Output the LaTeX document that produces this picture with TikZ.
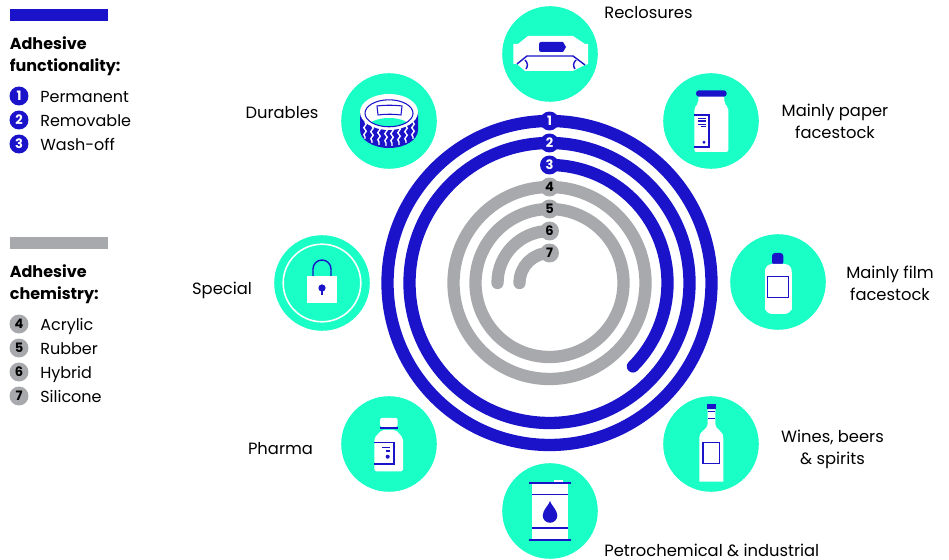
\documentclass[tikz,border=0pt]{standalone}
\usepackage{fontspec}
\setmainfont{Poppins}
\usetikzlibrary{decorations.pathmorphing}
\definecolor{inkblue}{HTML}{1A13C9}
\definecolor{ringgrey}{HTML}{A7A9AC}
\definecolor{mint}{HTML}{19FFC6}
\tikzset{
    bluering/.style={draw=inkblue, line width=7pt, line cap=round},
    greyring/.style={draw=ringgrey, line width=7pt, line cap=round},
    bluebadge/.style={circle, fill=inkblue, text=white, minimum size=10.8pt, inner sep=0pt, font=\fontsize{7.4}{7.4}\selectfont\bfseries},
    greybadge/.style={circle, fill=ringgrey, text=black, minimum size=10.8pt, inner sep=0pt, font=\fontsize{7.4}{7.4}\selectfont\bfseries},
    disc/.style={circle, fill=mint, minimum size=54.4pt, inner sep=0pt},
    lbl/.style={inner sep=0pt, align=center, font=\fontsize{9.3}{12.5}\selectfont},
    keylbl/.style={inner sep=0pt, anchor=west, text height=6.5pt, text depth=2pt, font=\fontsize{9.1}{12.5}\selectfont},
    heading/.style={inner sep=0pt, anchor=north west, align=left, font=\fontsize{9.1}{12.5}\selectfont\bfseries},
    inkline/.style={draw=inkblue, line width=0.8pt},
    paper/.style={fill=white}
}
\begin{document}
\begin{tikzpicture}[x=0.02cm, y=0.02cm]
    \useasboundingbox (0,0) rectangle (949,560);

    % legend, functionality
    \fill [inkblue] (10,539) rectangle (108,551);
    \node [heading] (headfunc) at (9.5,524) {Adhesive\\functionality:};
    \node [bluebadge] (key1) at (19,464) {1};
    \node [bluebadge] (key2) at (19,440) {2};
    \node [bluebadge] (key3) at (19,416) {3};
    \node [keylbl] (permanent) at (40,461) {Permanent};
    \node [keylbl] (removable) at (40,437) {Removable};
    \node [keylbl] (washoff) at (40,413) {Wash-off};

    % legend, chemistry
    \fill [ringgrey] (10,311) rectangle (108,323);
    \node [heading] (headchem) at (9.5,296) {Adhesive\\chemistry:};
    \node [greybadge] (key4) at (19,236) {4};
    \node [greybadge] (key5) at (19,212) {5};
    \node [greybadge] (key6) at (19,188) {6};
    \node [greybadge] (key7) at (19,164) {7};
    \node [keylbl] (acrylic) at (40,233) {Acrylic};
    \node [keylbl] (rubber) at (40,209) {Rubber};
    \node [keylbl] (hybrid) at (40,185) {Hybrid};
    \node [keylbl] (silicone) at (40,161) {Silicone};

    % rings
    \coordinate (mid) at (549.5,277);
    \draw [bluering] (mid) circle [radius=162];
    \draw [bluering] (mid) circle [radius=140];
    \draw [bluering] (549.5,395) arc (90:-45:118);
    \draw [greyring] (mid) circle [radius=96];
    \draw [greyring] (mid) circle [radius=74];
    \draw [greyring] (549.5,329) arc (90:180:52);
    \draw [greyring] (549.5,307) arc (90:180:30);
    % numbers
    \node [bluebadge] (ring1) at (549.5,439) {1};
    \node [bluebadge] (ring2) at (549.5,417) {2};
    \node [bluebadge] (ring3) at (549.5,395) {3};
    \node [greybadge] (ring4) at (549.5,373) {4};
    \node [greybadge] (ring5) at (549.5,351) {5};
    \node [greybadge] (ring6) at (549.5,329) {6};
    \node [greybadge] (ring7) at (549.5,307) {7};

    % discs
    \node [disc] (reclosures) at (550,506) {};
    \node [disc] (durables) at (389,439) {};
    \node [disc] (paperjar) at (711,439) {};
    \node [disc] (filmbottle) at (778,278) {};
    \node [disc] (wine) at (711,116) {};
    \node [disc] (drum) at (550,49) {};
    \node [disc] (pharma) at (389,116) {};
    \node [disc] (special) at (322,277) {};

    % labels
    \node [lbl, anchor=west] (lblreclosures) at (604,547) {Reclosures};
    \node [lbl] (lbldurables) at (282,447) {Durables};
    \node [lbl] (lblpaper) at (835,438.5) {Mainly paper\\facestock};
    \node [lbl] (lblfilm) at (890,276.5) {Mainly film\\facestock};
    \node [lbl] (lblwine) at (832.5,111) {Wines, beers\\\& spirits};
    \node [lbl, anchor=west] (lblpetro) at (604,10) {Petrochemical \& industrial};
    \node [lbl] (lblpharma) at (280.5,111) {Pharma};
    \node [lbl] (lblspecial) at (222,270) {Special};

    % wipes pack
    \begin{scope}[shift={(reclosures.center)}]
        \fill [paper] (-36.7,10) -- (-32,10) -- (-22,18) -- (23,18) -- (35,10) -- (38,10)
            -- (38,-10) -- (35,-11) -- (23,-17) -- (-25,-17) -- (-33,-10) -- (-36.7,-10) -- cycle;
        \fill [inkblue, rounded corners=1.2pt] (-11,12) rectangle (12,2);
        \fill [inkblue] (10,12) -- (13,12) -- (16,7) -- (13,2) -- (10,2) -- cycle;
        \draw [inkline] (-33,-10) -- (-23,-2) -- (23,-2) -- (35,-11);
        \draw [inkline] (-25,-6) .. controls (-22,-9) and (-22,-12) .. (-24,-15);
        \draw [inkline] (26,-6) .. controls (23,-9) and (23,-12) .. (25,-15);
    \end{scope}

    % tape roll
    \begin{scope}[shift={(durables.center)}]
        \fill [inkblue] (-29,9) -- (-29,-9) arc (180:360:29 and 18) -- (29,9) -- cycle;
        \foreach \wx/\wtop/\wbot in {-24/-1/-18, -17/-5/-22, -10/-6/-24, -3/-7/-25, 3/-7/-25, 10/-6/-24, 17/-5/-22, 24/-1/-18}
            \draw [white, line width=0.8pt, decorate, decoration={snake, amplitude=0.7pt, segment length=4pt}] (\wx,\wtop) -- (\wx,\wbot);
        \fill [paper] (0,9) ellipse [x radius=29, y radius=18];
        \begin{scope}
            \clip (0,7.7) ellipse [x radius=24, y radius=13.5];
            \fill [mint] (0,-7) ellipse [x radius=22, y radius=10];
        \end{scope}
        \draw [inkblue, line width=0.6pt] (0,7.7) ellipse [x radius=24, y radius=13.5];
        \draw [inkblue, line width=0.6pt] (-12,15) .. controls (-4,16) and (5,16) .. (13,15)
            -- (12,6) .. controls (4,7) and (-4,7) .. (-11,6) -- cycle;
    \end{scope}

    % jar
    \begin{scope}[shift={(paperjar.center)}]
        \fill [paper, rounded corners=1.2pt] (-16.7,-31) -- (-16.7,13) -- (-12.7,18) -- (-12.7,25) -- (13.3,25) -- (13.3,18) -- (17.3,13) -- (17.3,-31) -- cycle;
        \fill [inkblue, rounded corners=1.7pt] (-15,30.7) rectangle (15.7,24.3);
        \draw [inkline] (-16.7,6) -- (-2,6) -- (-2,-26) -- (-16.7,-26);
        \draw [inkblue, line width=0.6pt] (-13,2.7) -- (-5,2.7) (-13,0) -- (-5,0) (-13,-3.3) -- (-5,-3.3) (-10,-5.7) -- (-5,-5.7);
        \fill [inkblue] (-7,-21.3) circle [radius=1.6];
    \end{scope}

    % film bottle
    \begin{scope}[shift={(filmbottle.center)}]
        \fill [inkblue, rounded corners=1.7pt] (-6,17) -- (-6,29) -- (5.3,29) -- (5.3,17) -- cycle;
        \fill [paper, rounded corners=4pt] (-13,-32) -- (-13,18) -- (13.7,18) -- (13.7,-32) -- cycle;
        \fill [paper] (-13,-28) rectangle (13.7,10);
        \draw [inkline, fill=white] (-10.3,5.3) rectangle (10.7,-15.3);
    \end{scope}

    % wine bottle
    \begin{scope}[shift={(wine.center)}]
        \fill [paper] (-3.3,34.7) -- (4.3,34.7) -- (4.3,20) .. controls (4.3,14) and (12.3,14) .. (12.3,6)
            -- (12.3,-37.7) -- (-11.7,-37.7) -- (-11.7,6) .. controls (-11.7,14) and (-3.3,14) .. (-3.3,20) -- cycle;
        \fill [inkblue] (-4,40) rectangle (5,34.7);
        \draw [inkline] (-3.3,32.7) -- (4.3,32.7) (-3.3,25.7) -- (4.3,25.7);
        \draw [inkline] (-8,1.3) rectangle (8.7,-19.3);
    \end{scope}

    % drum
    \begin{scope}[shift={(drum.center)}]
        \fill [paper] (4.3,31) rectangle (13.3,28);
        \fill [paper] (-18.3,28) rectangle (18.3,-29);
        \draw [inkline] (-21,28) -- (21,28) (-21,-29) -- (21,-29);
        \draw [inkline] (-18.3,16.3) -- (18.3,16.3) (-18.3,-17) -- (18.3,-17);
        \fill [inkblue] (0,10) .. controls (-1,6) and (-7.3,1) .. (-7.3,-4.5) arc (180:360:7.3) .. controls (7.3,1) and (1,6) .. (0,10) -- cycle;
    \end{scope}

    % medicine bottle
    \begin{scope}[shift={(pharma.center)}]
        \fill [paper, rounded corners=1.2pt] (-9,26) rectangle (8.7,17);
        \fill [paper, rounded corners=1.2pt] (-14.7,-27.3) -- (-14.7,6) -- (-7.3,14) -- (7,14) -- (14,6) -- (14,-27.3) -- cycle;
        \draw [inkline] (-8.7,16) -- (8.7,16);
        \draw [inkline] (-14.7,1.7) -- (5,1.7) -- (5,-20) -- (-14.7,-20);
        \draw [inkblue, line width=0.6pt] (-6.7,-3.3) -- (1.3,-3.3) (-3.3,-7) -- (1.3,-7);
        \fill [inkblue] (-1.3,-12.7) circle [radius=2];
    \end{scope}

    % padlock
    \begin{scope}[shift={(special.center)}]
        \draw [white, line width=0.9pt] (0,0) circle [radius=38.8];
        \draw [inkline] (-9,7) -- (-9,14) arc (180:0:9) -- (9,7);
        \fill [paper] (-15,7) rectangle (15,-20);
        \draw [inkblue, line width=1pt] (0,-5) -- (0,-12);
        \fill [inkblue] (0,-5) circle [radius=3.6];
    \end{scope}
\end{tikzpicture}
\end{document}
